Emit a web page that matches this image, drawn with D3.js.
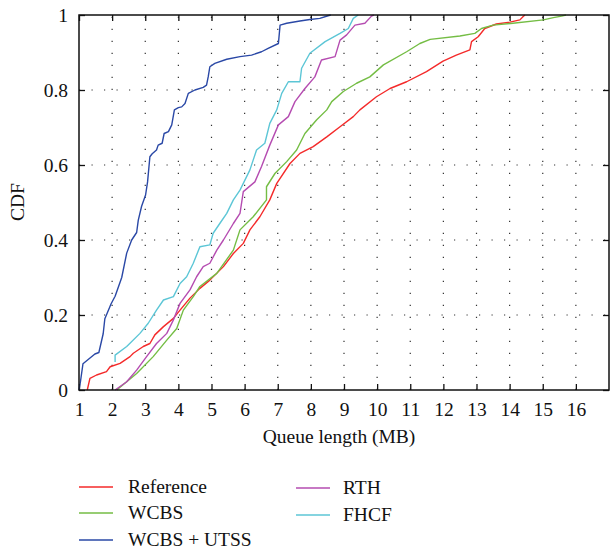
<!DOCTYPE html>
<html>
<head>
<meta charset="utf-8">
<script src="https://cdn.jsdelivr.net/npm/d3@7"></script>
<style>
body { margin: 0; background: #fff; }
svg text { font-family: "Liberation Serif", "DejaVu Serif", serif; fill: #111; }
</style>
</head>
<body>
<svg id="chart" width="613" height="553"></svg>
<script>
// values: [queue length MB, CDF]
var xTicks = [1, 2, 3, 4, 5, 6, 7, 8, 9, 10, 11, 12, 13, 14, 15, 16];
var yTicks = [0, 0.2, 0.4, 0.6, 0.8, 1];

var reference = [[1.25,0],[1.33,0.031],[1.53,0.04],[1.83,0.049],[1.94,0.062],[2.24,0.071],[2.54,0.089],[2.64,0.098],
    [2.94,0.116],[3.14,0.124],[3.29,0.147],[3.55,0.169],[3.85,0.191],[4.05,0.213],[4.35,0.245],[4.65,0.271],[4.95,0.293],
    [5.36,0.329],[5.66,0.364],[5.96,0.391],[6.16,0.427],[6.46,0.462],[6.76,0.507],[6.97,0.551],[7.37,0.604],[7.67,0.631],
    [8.07,0.649],[8.48,0.675],[8.88,0.702],[9.28,0.729],[9.48,0.747],[9.98,0.782],[10.39,0.804],[10.89,0.822],[11.49,0.849],
    [11.99,0.877],[12.39,0.893],[12.8,0.907],[12.85,0.929],[13.05,0.942],[13.25,0.964],[13.6,0.976],[14.01,0.981],
    [14.31,0.987],[14.41,0.996],[14.46,1]];
var wcbs = [[2.14,0],[2.74,0.044],[3.24,0.089],[3.65,0.133],[3.95,0.164],[4.15,0.213],[4.45,0.249],[4.65,0.276],
    [5.16,0.311],[5.66,0.373],[5.86,0.427],[6.26,0.462],[6.66,0.507],[6.66,0.542],[6.92,0.578],[7.27,0.609],[7.57,0.64],
    [7.82,0.684],[8.17,0.72],[8.48,0.747],[8.63,0.769],[8.98,0.796],[9.38,0.818],[9.78,0.835],[10.19,0.867],[10.89,0.902],
    [11.29,0.924],[11.6,0.935],[12.5,0.944],[12.95,0.951],[13.15,0.964],[13.5,0.973],[14.1,0.978],[15.02,0.987],
    [15.32,0.993],[15.57,0.997],[15.7,1]];
var wcbsUtss = [[1.0,0],[1.04,0.02],[1.12,0.07],[1.48,0.096],[1.6,0.1],[1.73,0.15],[1.78,0.19],[1.97,0.23],[2.09,0.25],
    [2.29,0.30],[2.44,0.365],[2.59,0.40],[2.74,0.42],[2.79,0.453],[2.89,0.49],[3.01,0.52],[3.07,0.555],[3.14,0.622],
    [3.21,0.63],[3.34,0.64],[3.39,0.653],[3.51,0.658],[3.57,0.684],[3.70,0.689],[3.80,0.707],[3.88,0.747],[4.0,0.753],
    [4.1,0.755],[4.2,0.764],[4.30,0.791],[4.50,0.80],[4.75,0.807],[4.85,0.813],[4.9,0.835],[4.95,0.862],[5.1,0.871],
    [5.46,0.882],[5.86,0.889],[6.21,0.893],[6.51,0.902],[6.71,0.911],[7.02,0.924],[7.07,0.973],[7.27,0.978],[7.67,0.984],
    [7.97,0.988],[8.27,0.991],[8.52,0.998],[8.6,1]];
var rth = [[2.09,0],[2.44,0.022],[2.74,0.053],[3.04,0.089],[3.34,0.124],[3.65,0.151],[3.85,0.187],[4.05,0.231],
    [4.35,0.267],[4.55,0.302],[4.75,0.329],[4.95,0.338],[5.16,0.373],[5.36,0.40],[5.66,0.444],[5.86,0.471],[5.96,0.529],
    [6.31,0.555],[6.51,0.596],[6.76,0.653],[7.02,0.707],[7.32,0.729],[7.52,0.769],[7.82,0.804],[8.12,0.835],[8.32,0.88],
    [8.73,0.889],[8.88,0.933],[9.08,0.947],[9.33,0.973],[9.63,0.978],[9.83,0.997],[9.9,1]];
var fhcf = [[2.09,0.075],[2.09,0.093],[2.44,0.116],[2.84,0.151],[3.09,0.178],[3.34,0.213],[3.55,0.24],[3.85,0.249],
    [4.05,0.284],[4.25,0.302],[4.45,0.338],[4.65,0.382],[4.95,0.387],[5.05,0.418],[5.25,0.444],[5.46,0.471],[5.66,0.507],
    [5.86,0.533],[6.16,0.587],[6.36,0.64],[6.61,0.658],[6.76,0.711],[6.97,0.747],[7.12,0.791],[7.32,0.822],[7.67,0.822],
    [7.72,0.858],[7.97,0.898],[8.43,0.929],[8.88,0.951],[9.13,0.964],[9.28,0.991],[9.43,1]];

var seriesNames = ['Reference', 'WCBS', 'WCBS + UTSS', 'RTH', 'FHCF'];
var seriesData = [reference, wcbs, wcbsUtss, rth, fhcf];
var seriesColors = ['#f42a2a', '#74bd44', '#2a48a6', '#b54cb1', '#5cc6d6'];

var svg = d3.select('#chart');
var pLeft = 79, pRight = 609, pTop = 15, pBottom = 390;

var x = d3.scaleLinear().domain([1, 17]).range([pLeft, pRight]);
var y = d3.scaleLinear().domain([0, 1]).range([pBottom, pTop]);

// dotted grid
var grid = svg.append('g').attr('class', 'grid');
grid.selectAll('.vgrid')
    .data(xTicks.slice(1))
    .enter().append('line')
    .attr('x1', function(d){ return x(d); })
    .attr('x2', function(d){ return x(d); })
    .attr('y1', pBottom)
    .attr('y2', pTop)
    .attr('stroke', '#333')
    .attr('stroke-width', 1.2)
    .attr('stroke-dasharray', '1.2,10.8');
grid.selectAll('.hgrid')
    .data(yTicks.slice(1, -1))
    .enter().append('line')
    .attr('x1', pLeft)
    .attr('x2', pRight)
    .attr('y1', function(d){ return y(d); })
    .attr('y2', function(d){ return y(d); })
    .attr('stroke', '#333')
    .attr('stroke-width', 1.2)
    .attr('stroke-dasharray', '1.2,11.3');

// axes, ticks pointing inward
svg.append('g')
    .attr('transform', 'translate(0,' + pBottom + ')')
    .call(d3.axisBottom(x).tickValues(xTicks).tickSize(-6).tickPadding(12).tickFormat(d3.format('d')))
    .call(function(g){ g.select('.domain').remove(); });
svg.append('g')
    .attr('transform', 'translate(0,' + pTop + ')')
    .call(d3.axisTop(x).tickValues(xTicks).tickSize(-6).tickFormat(''))
    .call(function(g){ g.select('.domain').remove(); });
svg.append('g')
    .attr('transform', 'translate(' + pLeft + ',0)')
    .call(d3.axisLeft(y).tickValues(yTicks).tickSize(-6).tickPadding(11).tickFormat(function(d){ return d === 0 || d === 1 ? d : d3.format('.1f')(d); }))
    .call(function(g){ g.select('.domain').remove(); });
svg.append('g')
    .attr('transform', 'translate(' + pRight + ',0)')
    .call(d3.axisRight(y).tickValues(yTicks).tickSize(-6).tickFormat(''))
    .call(function(g){ g.select('.domain').remove(); });

svg.selectAll('.tick line').attr('stroke', '#111').attr('stroke-width', 1.3);
svg.selectAll('.tick text').style('font-family', '"Liberation Serif", serif').style('font-size', '19.5px').attr('fill', '#111');

// curves
var line = d3.line()
    .x(function(d){ return x(d[0]); })
    .y(function(d){ return y(d[1]); });

svg.append('g').selectAll('path')
    .data(seriesData)
    .enter().append('path')
    .attr('d', line)
    .attr('fill', 'none')
    .attr('stroke', function(d, i){ return seriesColors[i]; })
    .attr('stroke-width', 1.4)
    .attr('stroke-linejoin', 'round');

// frame
svg.append('rect')
    .attr('x', pLeft)
    .attr('y', pTop)
    .attr('width', pRight - pLeft)
    .attr('height', pBottom - pTop)
    .attr('fill', 'none')
    .attr('stroke', '#111')
    .attr('stroke-width', 1.5);

// axis titles
svg.append('text')
    .attr('x', 339)
    .attr('y', 443)
    .attr('text-anchor', 'middle')
    .style('font-size', '19.5px')
    .text('Queue length (MB)');
svg.append('text')
    .attr('transform', 'translate(24,202) rotate(-90)')
    .attr('text-anchor', 'middle')
    .style('font-size', '19.5px')
    .text('CDF');

// legend
var legendPos = [[79, 487], [79, 513], [79, 540], [296, 488], [296, 515]];
var legend = svg.append('g').selectAll('g')
    .data(seriesNames)
    .enter().append('g')
    .attr('transform', function(d, i){ return 'translate(' + legendPos[i][0] + ',' + legendPos[i][1] + ')'; });
legend.append('line')
    .attr('x1', 0)
    .attr('x2', 34)
    .attr('stroke', function(d, i){ return seriesColors[i]; })
    .attr('stroke-width', 1.4);
legend.append('text')
    .attr('x', function(d, i){ return i < 3 ? 49 : 47; })
    .attr('y', 6)
    .style('font-size', '19.5px')
    .text(function(d){ return d; });
</script>
</body>
</html>
